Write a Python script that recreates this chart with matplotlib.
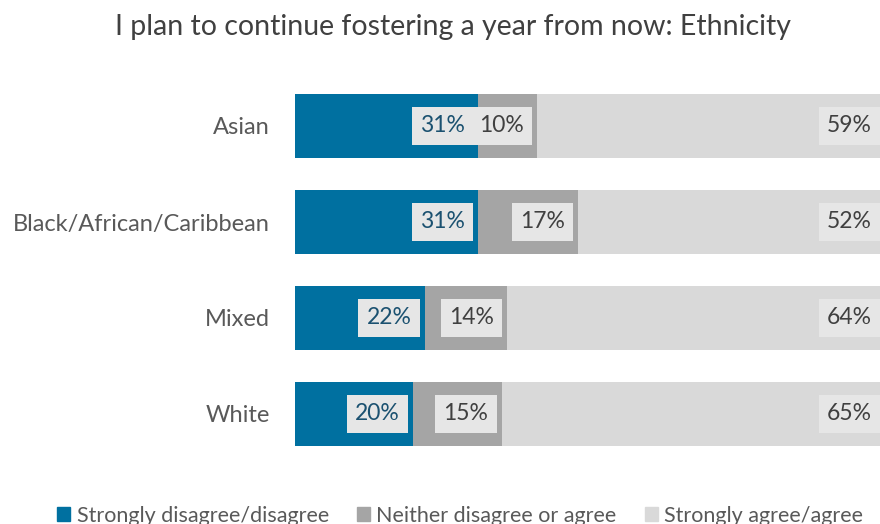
import matplotlib
matplotlib.use('Agg')
import matplotlib.pyplot as plt
import matplotlib.patches as mpatches
import numpy as np

# Survey shares by ethnicity (percent)
groups = ["Asian", "Black/African/Caribbean", "Mixed", "White"]
disagree = [31, 31, 22, 20]
neither = [10, 17, 14, 15]
agree = [59, 52, 64, 65]
series_names = ["Strongly disagree/disagree", "Neither disagree or agree", "Strongly agree/agree"]

BLUE = "#0070A0"
MID = "#A5A5A5"
LIGHT = "#D9D9D9"
BOX = "#E6E6E6"
colors = [BLUE, MID, LIGHT]
text_colors = ["#1B5170", "#404040", "#404040"]

plt.rcParams['font.family'] = ['Lato', 'DejaVu Sans']

fig = plt.figure(figsize=(8.8, 5.24), dpi=100)
ax = fig.add_axes([295 / 880, 1 - 462 / 524, 585 / 880, 384 / 524])

y = np.arange(len(groups))
left = np.zeros(len(groups))
for vals, col, tcol, name in zip([disagree, neither, agree], colors, text_colors, series_names):
    vals = np.array(vals, dtype=float)
    ax.barh(y, vals, left=left, height=0.667, color=col, label=name)
    ends = left + vals
    for yi, v, e in zip(y, vals, ends):
        ax.annotate(f"{int(v)}%", xy=(e, yi), xytext=(-9.5, 0), textcoords="offset points",
                    ha="right", va="center", fontsize=16.5, color=tcol, annotation_clip=False,
                    bbox=dict(boxstyle="square,pad=0.36", facecolor=BOX, edgecolor="none"))
    left = ends

ax.set_xlim(0, 99.15)
ax.set_ylim(len(groups) - 0.5, -0.5)
ax.set_yticks(y)
ax.set_yticklabels(groups, fontsize=17, color="#595959")
ax.tick_params(axis="y", length=0, pad=18)
ax.set_xticks([])
for s in ax.spines.values():
    s.set_visible(False)

fig.text(0.515, 0.948, "I plan to continue fostering a year from now: Ethnicity",
         ha="center", va="center", fontsize=20.5, color="#404040")

handles = [mpatches.Patch(color=c) for c in colors]
fig.legend(handles, series_names, loc="center", bbox_to_anchor=(0.523, 0.016), ncol=3,
           frameon=False, fontsize=15.5, labelcolor="#595959", handlelength=0.6,
           handleheight=0.6, handletextpad=0.3, columnspacing=1.3)

fig.savefig("out.png", dpi=100)
